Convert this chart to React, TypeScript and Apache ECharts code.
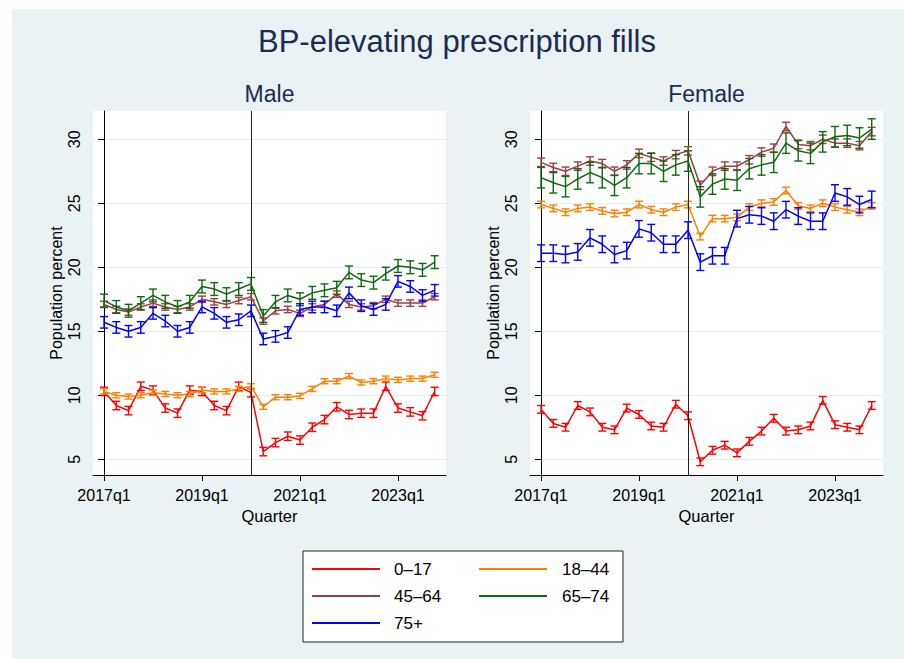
import React, { useEffect, useRef } from 'react';
import * as echarts from 'echarts';

const FONT = '"Liberation Sans", Arial, Helvetica, sans-serif';

const groups = ['0–17', '18–44', '45–64', '65–74', '75+'];
const colors = ['#FF0000', '#FF7F00', '#993F47', '#0E6A0E', '#0000FF'];

const xTickValues = [0, 8, 16, 24];
const xTickLabels = ['2017q1', '2019q1', '2021q1', '2023q1'];
const yTickValues = [5, 10, 15, 20, 25, 30];
const breakQuarter = 12;

// Male, 2017q1 .. 2023q4
const male0_17 = [10.3, 9.2, 8.8, 10.7, 10.4, 9.0, 8.6, 10.4, 10.3, 9.2, 8.8, 10.7, 10.2, 5.6, 6.3, 6.8, 6.5, 7.5, 8.1, 9.1, 8.5, 8.6, 8.6, 10.7, 9.0, 8.7, 8.4, 10.3];
const male18_44 = [10.3, 10.0, 9.9, 10.0, 10.2, 10.1, 10.0, 10.1, 10.4, 10.3, 10.3, 10.5, 10.7, 9.1, 9.85, 9.85, 9.95, 10.5, 11.1, 11.1, 11.5, 11.0, 11.1, 11.3, 11.2, 11.3, 11.3, 11.6];
const male45_64 = [17.1, 16.7, 16.5, 16.9, 17.2, 16.9, 16.7, 16.9, 17.5, 17.3, 17.1, 17.4, 17.7, 15.8, 16.6, 16.7, 16.4, 16.9, 17.1, 17.9, 17.1, 16.9, 17.0, 17.5, 17.2, 17.2, 17.2, 17.7];
const male65_74 = [17.4, 16.9, 16.6, 17.2, 17.8, 17.3, 16.9, 17.3, 18.5, 18.3, 17.9, 18.3, 18.7, 16.2, 17.3, 17.8, 17.5, 18.0, 18.2, 18.4, 19.6, 19.0, 18.8, 19.5, 20.1, 20.0, 19.8, 20.4];
const male75plus = [15.7, 15.3, 15.0, 15.3, 16.4, 15.8, 15.0, 15.3, 16.9, 16.4, 15.7, 15.9, 16.6, 14.4, 14.6, 14.9, 16.7, 16.9, 16.9, 16.6, 18.0, 17.0, 16.7, 17.1, 18.9, 18.5, 17.8, 18.2];
const maleErr = [0.33, 0.2, 0.25, 0.5, 0.45];

// Female, 2017q1 .. 2023q4
const female0_17 = [8.9, 7.8, 7.5, 9.2, 8.7, 7.5, 7.3, 9.0, 8.5, 7.6, 7.5, 9.3, 8.4, 4.8, 5.7, 6.1, 5.5, 6.4, 7.2, 8.2, 7.2, 7.3, 7.6, 9.6, 7.7, 7.5, 7.3, 9.2];
const female18_44 = [24.9, 24.6, 24.3, 24.6, 24.7, 24.4, 24.2, 24.3, 24.9, 24.5, 24.3, 24.7, 24.9, 22.4, 23.8, 23.8, 23.9, 24.7, 25.0, 25.1, 26.0, 24.8, 24.6, 25.0, 24.7, 24.5, 24.3, 24.8];
const female45_64 = [28.2, 27.8, 27.5, 27.9, 28.3, 28.1, 27.5, 28.0, 28.9, 28.6, 28.3, 28.8, 29.1, 26.4, 27.5, 27.9, 27.9, 28.4, 29.0, 29.3, 31.0, 29.6, 29.5, 30.0, 29.7, 29.7, 29.5, 30.6];
const female65_74 = [27.0, 26.6, 26.3, 26.9, 27.4, 27.0, 26.4, 27.0, 28.1, 28.1, 27.5, 28.0, 28.3, 25.5, 26.5, 26.9, 26.8, 27.7, 28.0, 28.2, 29.7, 29.1, 28.9, 29.8, 30.2, 30.3, 30.1, 30.8];
const female75plus = [21.1, 21.1, 21.0, 21.2, 22.3, 21.8, 21.0, 21.3, 23.0, 22.7, 21.8, 21.8, 22.9, 20.4, 20.9, 20.9, 23.8, 24.1, 24.0, 23.6, 24.5, 24.0, 23.6, 23.6, 25.8, 25.5, 24.9, 25.3];
const femaleErr = [0.3, 0.26, 0.33, 0.8, 0.65];

const maleData = [male0_17, male18_44, male45_64, male65_74, male75plus];
const femaleData = [female0_17, female18_44, female45_64, female65_74, female75plus];

function panelSeries(data: number[][], errs: number[], gi: number) {
  const out: any[] = [];
  data.forEach((vals, k) => {
    const color = colors[k];
    const line: any = {
      type: 'line',
      name: groups[k],
      xAxisIndex: gi,
      yAxisIndex: gi,
      data: vals.map((v, i) => [i, v]),
      symbol: 'none',
      lineStyle: { color, width: 1.5 },
      itemStyle: { color },
      z: 3 + k,
    };
    if (k === 0) {
      line.markLine = {
        silent: true,
        symbol: ['none', 'none'],
        label: { show: false },
        lineStyle: { color: '#222', width: 1, type: 'solid' },
        data: [{ xAxis: breakQuarter }],
      };
    }
    out.push(line);
    out.push({
      type: 'custom',
      name: groups[k],
      xAxisIndex: gi,
      yAxisIndex: gi,
      data: vals.map((v, i) => [i, v - errs[k], v + errs[k]]),
      encode: { x: 0, y: [1, 2] },
      z: 3 + k,
      renderItem: (params: any, api: any) => {
        const x = api.value(0);
        const lo = api.coord([x, api.value(1)]);
        const hi = api.coord([x, api.value(2)]);
        const hw = 4;
        const style = { stroke: color, lineWidth: 1.4, fill: 'none' };
        return {
          type: 'group',
          children: [
            { type: 'line', shape: { x1: lo[0], y1: lo[1], x2: hi[0], y2: hi[1] }, style },
            { type: 'line', shape: { x1: lo[0] - hw, y1: lo[1], x2: lo[0] + hw, y2: lo[1] }, style },
            { type: 'line', shape: { x1: hi[0] - hw, y1: hi[1], x2: hi[0] + hw, y2: hi[1] }, style },
          ],
        };
      },
    });
  });
  return out;
}

function xAxisFor(gi: number) {
  return {
    gridIndex: gi,
    type: 'value',
    min: -0.9,
    max: 27.92,
    name: 'Quarter',
    nameLocation: 'middle',
    nameGap: 28,
    nameTextStyle: { fontSize: 16.5, color: '#000', fontFamily: FONT },
    axisLine: { show: true, lineStyle: { color: '#000', width: 1 } },
    axisTick: { show: true, length: 6, customValues: xTickValues, lineStyle: { color: '#000' } },
    axisLabel: {
      customValues: xTickValues,
      margin: 12,
      fontSize: 16,
      color: '#000',
      fontFamily: FONT,
      formatter: (v: number) => xTickLabels[xTickValues.indexOf(v)] ?? '',
    },
    splitLine: { show: false },
  };
}

function yAxisFor(gi: number) {
  return {
    gridIndex: gi,
    type: 'value',
    min: 3.77,
    max: 32.21,
    name: 'Population percent',
    nameLocation: 'middle',
    nameRotate: 90,
    nameGap: 29,
    nameTextStyle: { fontSize: 16, color: '#000', fontFamily: FONT },
    axisLine: { show: true, lineStyle: { color: '#000', width: 1 } },
    axisTick: { show: true, length: 6, customValues: yTickValues, lineStyle: { color: '#000' } },
    axisLabel: {
      customValues: yTickValues,
      rotate: 90,
      margin: 11,
      fontSize: 16,
      color: '#000',
      fontFamily: FONT,
    },
    splitLine: { show: true, lineStyle: { color: '#E6EFF1', width: 1 } },
  };
}

function legendGraphic() {
  const colX = [312, 479];
  const textX = [394, 562];
  const rowY = [569, 596, 623];
  const children: any[] = [
    {
      type: 'rect',
      shape: { x: 303, y: 551, width: 320, height: 91 },
      style: { fill: '#FFFFFF', stroke: '#222', lineWidth: 1 },
    },
  ];
  groups.forEach((g, k) => {
    const c = k % 2;
    const r = Math.floor(k / 2);
    children.push({
      type: 'line',
      shape: { x1: colX[c], y1: rowY[r], x2: colX[c] + 68, y2: rowY[r] },
      style: { stroke: colors[k], lineWidth: 2 },
    });
    children.push({
      type: 'text',
      x: textX[c],
      y: rowY[r],
      style: {
        text: g,
        fill: '#000',
        font: `17px ${FONT}`,
        textAlign: 'left',
        textVerticalAlign: 'middle',
        verticalAlign: 'middle',
      },
    });
  });
  return { type: 'group', children };
}

export default function App() {
  const ref = useRef<HTMLDivElement>(null);
  useEffect(() => {
    if (!ref.current) return;
    const chart = echarts.init(ref.current, null, { renderer: 'svg' });
    const option: any = {
      animation: false,
      backgroundColor: 'transparent',
      title: [
        {
          text: 'BP-elevating prescription fills',
          left: 457,
          top: 26,
          textAlign: 'center',
          padding: 0,
          textStyle: { fontSize: 31, fontWeight: 'normal', color: '#1C2C52', fontFamily: FONT },
        },
        {
          text: 'Male',
          left: 269.5,
          top: 82.5,
          textAlign: 'center',
          padding: 0,
          textStyle: { fontSize: 23, fontWeight: 'normal', color: '#1C2C52', fontFamily: FONT },
        },
        {
          text: 'Female',
          left: 706.5,
          top: 82.5,
          textAlign: 'center',
          padding: 0,
          textStyle: { fontSize: 23, fontWeight: 'normal', color: '#1C2C52', fontFamily: FONT },
        },
      ],
      grid: [
        { left: 93, top: 111, width: 353, height: 364, show: true, backgroundColor: '#FFFFFF', borderWidth: 0 },
        { left: 530, top: 111, width: 353, height: 364, show: true, backgroundColor: '#FFFFFF', borderWidth: 0 },
      ],
      xAxis: [xAxisFor(0), xAxisFor(1)],
      yAxis: [yAxisFor(0), yAxisFor(1)],
      series: [...panelSeries(maleData, maleErr, 0), ...panelSeries(femaleData, femaleErr, 1)],
      graphic: [legendGraphic()],
    };
    chart.setOption(option);
    return () => chart.dispose();
  }, []);
  return (
    <div style={{ position: 'absolute', left: 0, top: 0, width: 904, height: 659, background: '#FFFFFF' }}>
      <div style={{ position: 'absolute', left: 12, top: 9, width: 892, height: 650, background: '#EAF2F3' }} />
      <div ref={ref} style={{ position: 'absolute', left: 0, top: 0, width: 904, height: 659 }} />
    </div>
  );
}
